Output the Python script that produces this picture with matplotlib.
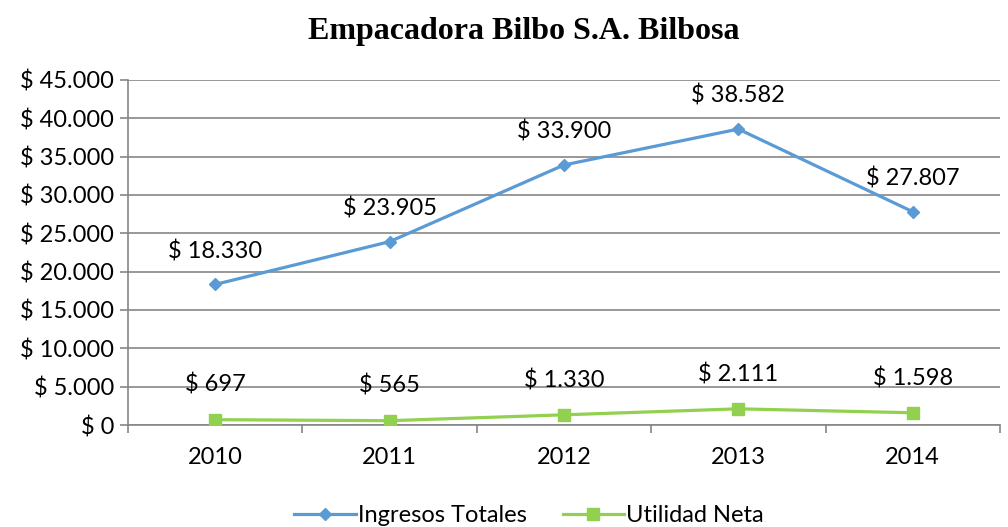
import numpy as np
import matplotlib.pyplot as plt
from matplotlib.ticker import FuncFormatter

# Data
years = ['2010', '2011', '2012', '2013', '2014']
ingresos = [18330, 23905, 33900, 38582, 27807]
utilidad = [697, 565, 1330, 2111, 1598]


def money(v, pos=None):
    return '$ ' + f'{int(v):,}'.replace(',', '.')


plt.rcParams['font.family'] = ['Lato', 'DejaVu Sans']
fs = 17

fig = plt.figure(figsize=(10.08, 5.27), dpi=100)
ax = fig.add_axes([0.127, 0.1935, 0.865, 0.655])

x = np.arange(len(years))
grid_c = '#868686'

l1, = ax.plot(x, ingresos, color='#5B9BD5', lw=2.3, marker='D', ms=6.5,
              label='Ingresos Totales', zorder=3)
l2, = ax.plot(x, utilidad, color='#92D050', lw=2.3, marker='s', ms=9,
              label='Utilidad Neta', zorder=3)

for xi, v in zip(x, ingresos):
    ax.annotate(money(v), (xi, v), xytext=(0, 24), textcoords='offset points',
                ha='center', va='center', fontsize=fs)
for xi, v in zip(x, utilidad):
    ax.annotate(money(v), (xi, v), xytext=(0, 25), textcoords='offset points',
                ha='center', va='center', fontsize=fs)

ax.set_xlim(-0.5, len(years) - 0.5)
ax.set_ylim(0, 45000)
ax.set_yticks(np.arange(0, 45001, 5000))
ax.yaxis.set_major_formatter(FuncFormatter(money))
ax.set_xticks(x)
ax.set_xticklabels(years)
ax.set_xticks(np.arange(-0.5, len(years)), minor=True)
ax.tick_params(axis='x', which='major', length=0, pad=16, labelsize=fs)
ax.tick_params(axis='x', which='minor', length=6, color=grid_c, width=1.2)
ax.tick_params(axis='y', length=6, color=grid_c, width=1.2, labelsize=fs, pad=4)

ax.grid(axis='y', color=grid_c, lw=1.2)
ax.set_axisbelow(True)
for s in ['top', 'right']:
    ax.spines[s].set_visible(False)
for s in ['left', 'bottom']:
    ax.spines[s].set_color(grid_c)
    ax.spines[s].set_linewidth(1.2)

fig.text(0.52, 0.94, 'Empacadora Bilbo S.A. Bilbosa', ha='center', va='center',
         fontsize=23, fontweight='bold', family='Liberation Serif')

fig.legend(handles=[l1, l2], loc='center', bbox_to_anchor=(0.525, 0.022), ncol=2,
           frameon=False, fontsize=fs, handlelength=2.6, handletextpad=0.1,
           columnspacing=1.5)

fig.savefig('out.png', dpi=100)
